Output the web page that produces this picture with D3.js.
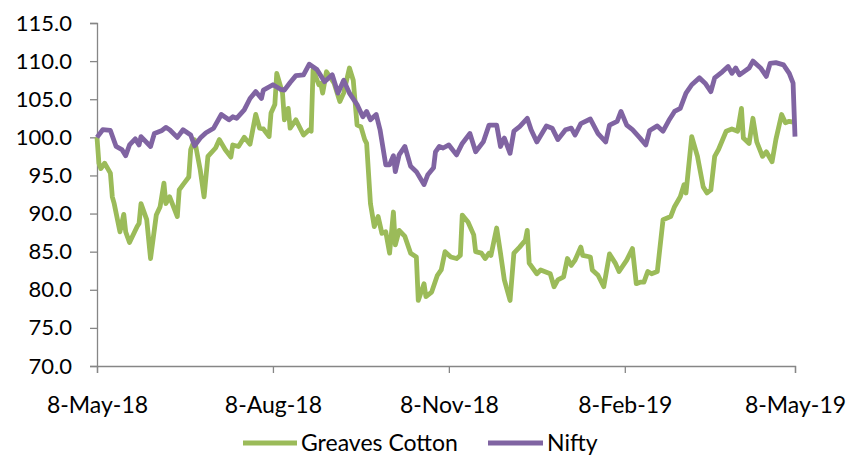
<!DOCTYPE html>
<html>
<head>
<meta charset="utf-8">
<script src="https://cdn.jsdelivr.net/npm/d3@7"></script>
<style>
  body { margin: 0; background: #fff; }
  text { font-family: Lato, "Open Sans", sans-serif; fill: #000; }
</style>
</head>
<body>
<svg id="chart" width="847" height="456"></svg>
<script>
let seriesNames = ["Greaves Cotton", "Nifty"]
let seriesColors = ["#9bbb59", "#8064a2"]
let xTicks = ["2018-05-08", "2018-08-08", "2018-11-08", "2019-02-08", "2019-05-08"]
let yTicks = [70, 75, 80, 85, 90, 95, 100, 105, 110, 115]

// rebased to 100 on 8-May-18
let greaves = [
  ["2018-05-08", 100.0], ["2018-05-09", 96.6], ["2018-05-10", 95.9], ["2018-05-12", 96.6],
  ["2018-05-15", 95.3], ["2018-05-16", 92.2], ["2018-05-17", 91.3], ["2018-05-20", 87.6],
  ["2018-05-22", 89.9], ["2018-05-23", 87.6], ["2018-05-25", 86.2], ["2018-05-29", 88.3],
  ["2018-05-30", 88.7], ["2018-05-31", 91.3], ["2018-06-03", 89.2], ["2018-06-05", 84.1],
  ["2018-06-08", 89.8], ["2018-06-10", 90.9], ["2018-06-12", 94.0], ["2018-06-13", 91.3],
  ["2018-06-15", 92.2], ["2018-06-19", 89.6], ["2018-06-20", 93.1], ["2018-06-22", 93.8],
  ["2018-06-25", 94.8], ["2018-06-26", 98.4], ["2018-06-28", 99.7], ["2018-07-01", 95.7],
  ["2018-07-03", 92.2], ["2018-07-05", 97.5], ["2018-07-09", 98.6], ["2018-07-11", 99.7],
  ["2018-07-14", 98.4], ["2018-07-17", 97.4], ["2018-07-18", 99.0], ["2018-07-21", 98.8],
  ["2018-07-24", 100.0], ["2018-07-27", 99.1], ["2018-07-30", 103.0], ["2018-08-01", 101.2],
  ["2018-08-03", 101.1], ["2018-08-06", 100.1], ["2018-08-07", 103.2], ["2018-08-09", 104.3],
  ["2018-08-10", 108.4], ["2018-08-13", 105.8], ["2018-08-14", 102.3], ["2018-08-16", 103.8],
  ["2018-08-17", 101.2], ["2018-08-20", 102.3], ["2018-08-24", 100.3], ["2018-08-27", 101.0],
  ["2018-08-28", 100.8], ["2018-08-29", 108.9], ["2018-09-01", 106.9], ["2018-09-02", 107.1],
  ["2018-09-03", 105.8], ["2018-09-05", 108.6], ["2018-09-09", 107.1], ["2018-09-12", 104.7],
  ["2018-09-14", 105.8], ["2018-09-17", 109.1], ["2018-09-19", 107.5], ["2018-09-21", 101.6],
  ["2018-09-23", 101.4], ["2018-09-25", 99.7], ["2018-09-26", 99.2], ["2018-09-28", 91.3],
  ["2018-09-30", 88.3], ["2018-10-02", 89.6], ["2018-10-04", 87.4], ["2018-10-06", 87.6],
  ["2018-10-08", 84.8], ["2018-10-10", 90.2], ["2018-10-11", 85.9], ["2018-10-13", 87.8],
  ["2018-10-16", 87.0], ["2018-10-19", 84.8], ["2018-10-22", 84.3], ["2018-10-23", 78.6],
  ["2018-10-26", 80.8], ["2018-10-27", 79.1], ["2018-10-30", 79.7], ["2018-11-02", 81.9],
  ["2018-11-04", 82.6], ["2018-11-06", 85.0], ["2018-11-09", 84.3], ["2018-11-12", 84.1],
  ["2018-11-14", 84.5], ["2018-11-15", 89.8], ["2018-11-18", 88.9], ["2018-11-21", 87.2],
  ["2018-11-22", 85.0], ["2018-11-25", 84.8], ["2018-11-27", 84.1], ["2018-11-29", 84.8],
  ["2018-11-30", 84.5], ["2018-12-03", 88.1], ["2018-12-05", 84.8], ["2018-12-07", 81.3],
  ["2018-12-10", 78.6], ["2018-12-12", 84.8], ["2018-12-15", 85.6], ["2018-12-18", 86.5],
  ["2018-12-19", 87.8], ["2018-12-20", 83.5], ["2018-12-24", 82.1], ["2018-12-26", 82.6],
  ["2018-12-28", 82.4], ["2018-12-31", 82.1], ["2019-01-02", 80.4], ["2019-01-04", 81.3],
  ["2019-01-07", 81.7], ["2019-01-09", 84.1], ["2019-01-11", 83.2], ["2019-01-13", 83.9],
  ["2019-01-16", 85.6], ["2019-01-17", 84.5], ["2019-01-21", 84.3], ["2019-01-22", 82.6],
  ["2019-01-25", 81.9], ["2019-01-28", 80.4], ["2019-01-31", 84.7], ["2019-02-03", 83.5],
  ["2019-02-05", 82.4], ["2019-02-09", 83.9], ["2019-02-12", 85.4], ["2019-02-14", 80.8],
  ["2019-02-16", 81.0], ["2019-02-18", 81.0], ["2019-02-20", 82.4], ["2019-02-22", 82.1],
  ["2019-02-25", 82.4], ["2019-02-28", 89.2], ["2019-03-04", 89.6], ["2019-03-06", 90.9],
  ["2019-03-09", 92.2], ["2019-03-11", 93.8], ["2019-03-12", 92.7], ["2019-03-15", 100.1],
  ["2019-03-18", 97.5], ["2019-03-21", 93.5], ["2019-03-23", 92.7], ["2019-03-25", 93.1],
  ["2019-03-27", 97.5], ["2019-03-29", 98.4], ["2019-04-02", 100.8], ["2019-04-05", 101.1],
  ["2019-04-08", 100.8], ["2019-04-10", 103.8], ["2019-04-11", 99.9], ["2019-04-14", 99.2],
  ["2019-04-16", 102.5], ["2019-04-18", 99.4], ["2019-04-21", 97.5], ["2019-04-23", 98.1],
  ["2019-04-26", 96.8], ["2019-04-28", 99.7], ["2019-05-01", 103.0], ["2019-05-03", 101.9],
  ["2019-05-05", 102.1], ["2019-05-07", 102.0]
]

let nifty = [
  ["2018-05-08", 100.0], ["2018-05-11", 101.0], ["2018-05-15", 100.9], ["2018-05-18", 98.8],
  ["2018-05-21", 98.4], ["2018-05-23", 97.6], ["2018-05-25", 99.0], ["2018-05-28", 99.8],
  ["2018-05-30", 99.0], ["2018-05-31", 100.1], ["2018-06-05", 98.8], ["2018-06-07", 100.5],
  ["2018-06-11", 100.9], ["2018-06-13", 101.3], ["2018-06-15", 101.0], ["2018-06-19", 100.0],
  ["2018-06-22", 101.0], ["2018-06-26", 100.3], ["2018-06-28", 98.9], ["2018-07-01", 99.9],
  ["2018-07-04", 100.6], ["2018-07-08", 101.2], ["2018-07-12", 103.0], ["2018-07-16", 102.3],
  ["2018-07-18", 102.7], ["2018-07-20", 102.5], ["2018-07-24", 103.6], ["2018-07-27", 105.1],
  ["2018-07-30", 106.0], ["2018-08-02", 105.1], ["2018-08-03", 106.2], ["2018-08-08", 106.9],
  ["2018-08-12", 106.3], ["2018-08-14", 106.2], ["2018-08-17", 107.2], ["2018-08-20", 108.1],
  ["2018-08-24", 108.2], ["2018-08-27", 109.6], ["2018-08-31", 108.9], ["2018-09-04", 107.3],
  ["2018-09-08", 108.2], ["2018-09-11", 105.8], ["2018-09-14", 107.5], ["2018-09-17", 105.8],
  ["2018-09-21", 104.3], ["2018-09-24", 102.7], ["2018-09-26", 103.4], ["2018-09-28", 102.3],
  ["2018-10-01", 103.0], ["2018-10-03", 101.0], ["2018-10-06", 96.4], ["2018-10-08", 96.4],
  ["2018-10-10", 97.6], ["2018-10-11", 95.5], ["2018-10-13", 97.7], ["2018-10-16", 98.8],
  ["2018-10-19", 96.2], ["2018-10-22", 95.5], ["2018-10-26", 93.8], ["2018-10-28", 95.1],
  ["2018-10-31", 96.0], ["2018-11-01", 98.1], ["2018-11-03", 98.8], ["2018-11-05", 98.6],
  ["2018-11-08", 99.0], ["2018-11-12", 97.7], ["2018-11-15", 99.2], ["2018-11-19", 100.5],
  ["2018-11-22", 98.1], ["2018-11-26", 99.4], ["2018-11-29", 101.6], ["2018-12-03", 101.6],
  ["2018-12-05", 98.8], ["2018-12-07", 99.9], ["2018-12-10", 97.9], ["2018-12-12", 100.8],
  ["2018-12-15", 101.4], ["2018-12-19", 102.5], ["2018-12-21", 101.0], ["2018-12-24", 99.4],
  ["2018-12-29", 101.5], ["2019-01-01", 101.2], ["2019-01-04", 99.7], ["2019-01-08", 101.0],
  ["2019-01-11", 101.2], ["2019-01-13", 100.3], ["2019-01-16", 101.8], ["2019-01-21", 102.4],
  ["2019-01-25", 100.5], ["2019-01-29", 99.4], ["2019-01-31", 101.6], ["2019-02-04", 102.1],
  ["2019-02-06", 103.4], ["2019-02-09", 101.6], ["2019-02-12", 101.0], ["2019-02-16", 99.9],
  ["2019-02-19", 99.0], ["2019-02-21", 100.9], ["2019-02-25", 101.5], ["2019-02-28", 100.8],
  ["2019-03-03", 102.2], ["2019-03-06", 103.4], ["2019-03-09", 103.8], ["2019-03-12", 105.8],
  ["2019-03-15", 106.9], ["2019-03-19", 107.8], ["2019-03-22", 107.1], ["2019-03-25", 106.0],
  ["2019-03-27", 107.8], ["2019-03-31", 108.6], ["2019-04-03", 109.3], ["2019-04-05", 108.4],
  ["2019-04-07", 109.1], ["2019-04-09", 108.2], ["2019-04-14", 109.1], ["2019-04-16", 110.0],
  ["2019-04-20", 109.1], ["2019-04-23", 108.0], ["2019-04-25", 109.7], ["2019-04-28", 109.8],
  ["2019-05-02", 109.5], ["2019-05-05", 108.4], ["2019-05-07", 107.1], ["2019-05-08", 100.1]
]

let parse = d3.timeParse("%Y-%m-%d")
let margin = {top: 23, right: 52, bottom: 90, left: 97}
let width = 847, height = 456

let scales = {
  x: d3.scaleTime()
    .domain([parse(xTicks[0]), parse(xTicks[xTicks.length - 1])])
    .range([margin.left, width - margin.right]),
  y: d3.scaleLinear()
    .domain([70, 115])
    .range([height - margin.bottom, margin.top])
}

let svg = d3.select("#chart")

function draw_axes() {
  let y_axis = d3.axisLeft(scales.y)
    .tickValues(yTicks)
    .tickFormat(d3.format(".1f"))
    .tickSize(7)
    .tickPadding(18)
  let gy = svg.append("g")
    .attr("transform", `translate(${margin.left}, 0)`)
    .call(y_axis)

  let x_axis = d3.axisBottom(scales.x)
    .tickValues(xTicks.map(parse))
    .tickFormat(d3.timeFormat("%-d-%b-%y"))
    .tickSize(7)
    .tickPadding(24)
  let gx = svg.append("g")
    .attr("transform", `translate(0, ${height - margin.bottom})`)
    .call(x_axis)

  for (let g of [gx, gy]) {
    g.select(".domain").attr("stroke", "#868686").attr("stroke-width", 1.3)
    g.selectAll(".tick line").attr("stroke", "#868686").attr("stroke-width", 1.3)
    g.selectAll(".tick text").attr("fill", "#000")
  }
  gy.selectAll(".tick text").style("font-size", "22px")
  gx.selectAll(".tick text").style("font-size", "23px")
}

function draw_lines() {
  let line_generator = d3.line()
    .x(d => scales.x(parse(d[0])))
    .y(d => scales.y(d[1]))

  svg.append("g")
    .selectAll("path")
    .data([greaves, nifty]).enter()
    .append("path")
    .attr("d", line_generator)
    .attr("fill", "none")
    .attr("stroke", (d, i) => seriesColors[i])
    .attr("stroke-width", 4.8)
    .attr("stroke-linejoin", "round")
}

function draw_legend() {
  let items = [{x: 243, w: 54}, {x: 488, w: 55}]
  let legend = svg.append("g")
  items.forEach((it, i) => {
    legend.append("line")
      .attr("x1", it.x).attr("x2", it.x + it.w)
      .attr("y1", 443).attr("y2", 443)
      .attr("stroke", seriesColors[i])
      .attr("stroke-width", 4.8)
    legend.append("text")
      .attr("x", it.x + it.w + 4)
      .attr("y", 443)
      .attr("dy", "0.36em")
      .style("font-size", "23px")
      .text(seriesNames[i])
  })
}

draw_axes()
draw_lines()
draw_legend()
</script>
</body>
</html>
